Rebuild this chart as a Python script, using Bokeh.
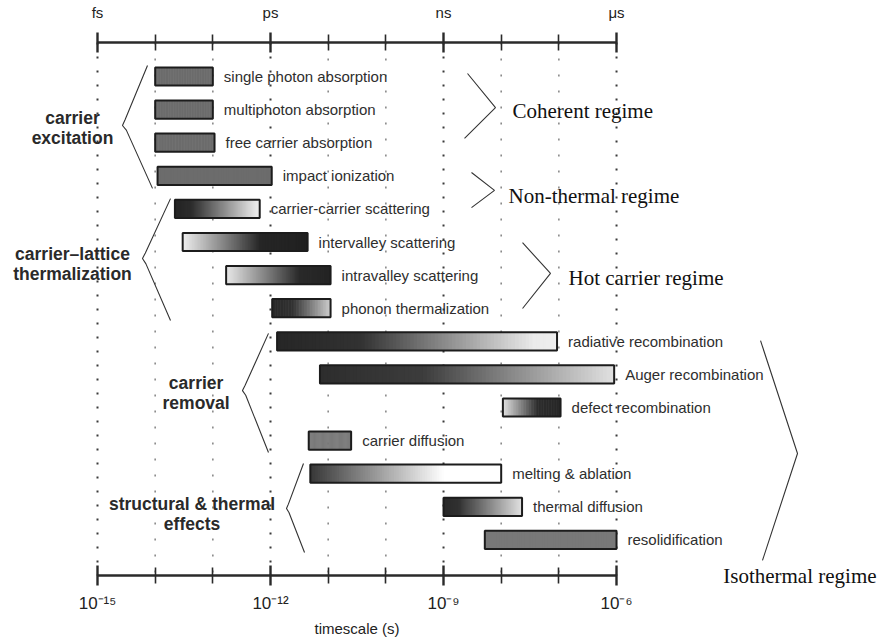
import numpy as np
from bokeh.plotting import figure
from bokeh.models import Range1d, LinearAxis, FixedTicker, ColumnDataSource
from bokeh.core.properties import value
from bokeh.embed import file_html
from bokeh.resources import INLINE

# ---------------- data ----------------
processes = ["single photon absorption", "multiphoton absorption", "free carrier absorption",
             "impact ionization", "carrier-carrier scattering", "intervalley scattering",
             "intravalley scattering", "phonon thermalization", "radiative recombination",
             "Auger recombination", "defect recombination", "carrier diffusion",
             "melting & ablation", "thermal diffusion", "resolidification"]
t_start = [1.0e-14, 1.0e-14, 1.0e-14, 1.1e-14, 2.2e-14, 3.0e-14, 1.7e-13, 1.07e-12,
           1.3e-12, 7.2e-12, 1.07e-8, 4.6e-12, 4.9e-12, 1.0e-9, 5.2e-9]
t_end = [1.0e-13, 1.0e-13, 1.07e-13, 1.05e-12, 6.5e-13, 4.4e-12, 1.1e-11, 1.1e-11,
         9.3e-8, 9.1e-7, 1.07e-7, 2.5e-11, 1.0e-8, 2.3e-8, 1.0e-6]

groups = ["carrier\nexcitation", "carrier\u2013lattice\nthermalization",
          "carrier\nremoval", "structural & thermal\neffects"]
group_rows = [(0, 3), (4, 7), (8, 11), (12, 14)]

regimes = ["Coherent regime", "Non-thermal regime", "Hot carrier regime", "Isothermal regime"]

major_exp = [-15, -12, -9, -6]
minor_exp = [-14, -13, -11, -10, -8, -7]
top_labels = ["fs", "ps", "ns", "\u03bcs"]
bottom_labels = ["10\u207b\u00b9\u2075", "10\u207b\u00b9\u00b2", "10\u207b\u2079", "10\u207b\u2076"]
x_title = "timescale (s)"

# ---------------- styles (kept apart from data) ----------------
SHADES = {
    "flat":        [(0.0, 108), (1.0, 108)],
    "flat_light":  [(0.0, 120), (1.0, 120)],
    "dark_light":  [(0.0, 35), (0.2, 45), (0.95, 232), (1.0, 235)],
    "light_dark":  [(0.0, 238), (0.62, 38), (1.0, 32)],
    "light_dark2": [(0.0, 232), (0.7, 42), (1.0, 35)],
    "phonon":      [(0.0, 40), (0.35, 50), (1.0, 205)],
    "long_fade":   [(0.0, 38), (0.3, 50), (0.92, 235), (1.0, 238)],
    "auger":       [(0.0, 45), (0.35, 60), (1.0, 225)],
    "defect":      [(0.0, 225), (0.6, 45), (1.0, 38)],
    "melt":        [(0.0, 55), (0.7, 255), (1.0, 255)],
    "thermal":     [(0.0, 40), (0.2, 50), (1.0, 225)],
}
bar_shade = ["flat", "flat", "flat", "flat", "dark_light", "light_dark", "light_dark2",
             "phonon", "long_fade", "auger", "defect", "flat_light", "melt", "thermal",
             "flat_light"]

# layout (the whole canvas is the plot frame; x = log10 seconds, y = row index)
W, H = 884, 639
PXD = 57.67                 # pixels per decade
X0 = -15 - 97 / PXD         # value at left edge
ROWPX = 33.1                # pixels per row
Y_TOP = -76 / ROWPX         # value at top edge (row 0 at y=76px)
Y_BOT = Y_TOP + H / ROWPX
AX_TOP = -34 / ROWPX        # top axis location (rows)
AX_BOT = 499 / ROWPX        # bottom axis location (rows)

p = figure(width=W, height=H,
           x_range=Range1d(X0, X0 + W / PXD), y_range=Range1d(Y_BOT, Y_TOP),
           output_backend="svg", toolbar_location=None,
           x_axis_location=None, y_axis_location=None,
           min_border=0, min_border_left=0, min_border_right=0,
           min_border_top=0, min_border_bottom=0)
p.outline_line_color = None
p.background_fill_color = "white"
p.border_fill_color = "white"
p.center = []

# dotted decade lines between the two axes
p.segment(x0=major_exp, x1=major_exp, y0=[AX_TOP] * 4, y1=[AX_BOT] * 4,
          line_color="#3a3a3a", line_width=2, line_dash="2 12")
p.segment(x0=minor_exp, x1=minor_exp, y0=[AX_TOP] * 6, y1=[AX_BOT] * 6,
          line_color="#8a8a8a", line_width=1.6, line_dash="2 14")

def style_axis(ax, labels, loc):
    ax.fixed_location = loc
    ax.bounds = (-15, -6)
    ax.ticker = FixedTicker(ticks=major_exp, minor_ticks=minor_exp)
    ax.major_label_overrides = {e: l for e, l in zip(major_exp, labels)}
    ax.axis_line_width = 2.6
    ax.axis_line_color = "#2a2a2a"
    ax.major_tick_line_width = 2.4
    ax.major_tick_line_color = "#2a2a2a"
    ax.minor_tick_line_width = 1.6
    ax.minor_tick_line_color = "#2a2a2a"
    ax.major_tick_in = 10
    ax.major_tick_out = 10
    ax.minor_tick_in = 8
    ax.minor_tick_out = 8
    ax.major_label_text_font = "Liberation Sans"
    ax.major_label_text_font_size = "15px"
    ax.major_label_text_color = "#222222"

ax_top = LinearAxis()
style_axis(ax_top, top_labels, AX_TOP)
ax_top.major_label_standoff = 12
p.add_layout(ax_top, "above")

ax_bot = LinearAxis()
style_axis(ax_bot, bottom_labels, AX_BOT)
ax_bot.major_label_standoff = 8
ax_bot.major_label_text_font_size = "17px"
p.add_layout(ax_bot, "below")

p.text(x=[(major_exp[0] + major_exp[-1]) / 2], y=[AX_BOT + 53 / ROWPX], text=[x_title],
       text_font=value("Liberation Sans"), text_font_size="15px", text_color="#222222",
       text_align="center", text_baseline="middle")

# gradient bars (drawn as many thin overlapping slices)
N = 80
BAR_H = 0.55
ls, rs, ys, cs = [], [], [], []
for i, (a, b) in enumerate(zip(t_start, t_end)):
    la, lb = np.log10(a), np.log10(b)
    w = (lb - la) / N
    stops = SHADES[bar_shade[i]]
    st = [s[0] for s in stops]
    sv = [s[1] for s in stops]
    for k in range(N):
        t = (k + 0.5) / N
        g = int(round(np.interp(t, st, sv)))
        ls.append(la + w * k)
        rs.append(min(la + w * (k + 1.8), lb))
        ys.append(i)
        cs.append("#%02x%02x%02x" % (g, g, g))
src = ColumnDataSource(dict(left=ls, right=rs, color=cs,
                            bottom=[y + BAR_H / 2 for y in ys], top=[y - BAR_H / 2 for y in ys]))
p.quad(left="left", right="right", bottom="bottom", top="top", fill_color="color",
       line_color=None, source=src)

rows = list(range(len(processes)))
bsrc = ColumnDataSource(dict(left=list(np.log10(t_start)), right=list(np.log10(t_end)),
                             top=[r - BAR_H / 2 for r in rows], bottom=[r + BAR_H / 2 for r in rows],
                             y=rows, name=processes))
p.quad(left="left", right="right", top="top", bottom="bottom", fill_alpha=0,
       line_color="#1c1c1c", line_width=2, source=bsrc)
p.text(x="right", y="y", text="name", source=bsrc, x_offset=11,
       text_font=value("Liberation Sans"), text_font_size="15px", text_color="#2e2e2e",
       text_baseline="middle", text_align="left")

# group labels
gx = [-15.434, -15.434, -13.29, -13.36]
gy = [(a + b) / 2 + 0.06 for a, b in group_rows]
gy[1] += 0.1
gy[3] += 0.15
p.text(x=gx, y=gy, text=groups, text_font=value("Liberation Sans"), text_font_style="bold",
       text_font_size="17.5px", text_color="#2a2a2a", text_align="center",
       text_baseline="middle", text_line_height=1.02)

# braces (decorative)
braces = [
    [(-14.133, -0.33), (-14.52, 1.3), (-14.567, 1.48), (-14.50, 1.62), (-14.046, 3.38)],
    [(-13.734, 3.69), (-14.17, 5.33), (-14.22, 5.50), (-14.16, 5.66), (-13.734, 7.37)],
    [(-12.035, 7.76), (-12.44, 9.33), (-12.486, 9.49), (-12.43, 9.63), (-12.035, 11.36)],
    [(-11.428, 11.69), (-11.69, 12.92), (-11.723, 13.05), (-11.68, 13.17), (-11.41, 14.38)],
    [(-8.584, -0.09), (-8.099, 0.94), (-8.636, 1.87)],
    [(-8.515, 2.90), (-8.116, 3.44), (-8.515, 3.96)],
    [(-7.63, 5.02), (-7.145, 5.95), (-7.63, 7.01)],
    [(-3.503, 7.98), (-2.862, 11.39), (-3.469, 14.62)],
]
p.multi_line(xs=[[pt[0] for pt in b] for b in braces], ys=[[pt[1] for pt in b] for b in braces],
             line_color="#333333", line_width=1.1)

# regime labels
reg_x = [-7.804, -7.873, -6.833, -4.15]
reg_y = [1.03, 3.6, 6.1, 15.1]
p.text(x=reg_x, y=reg_y, text=regimes, text_font=value("Liberation Serif"),
       text_font_size="21px", text_color="#111111", text_baseline="middle", text_align="left")

open("out.html", "w").write(file_html(p, INLINE))
